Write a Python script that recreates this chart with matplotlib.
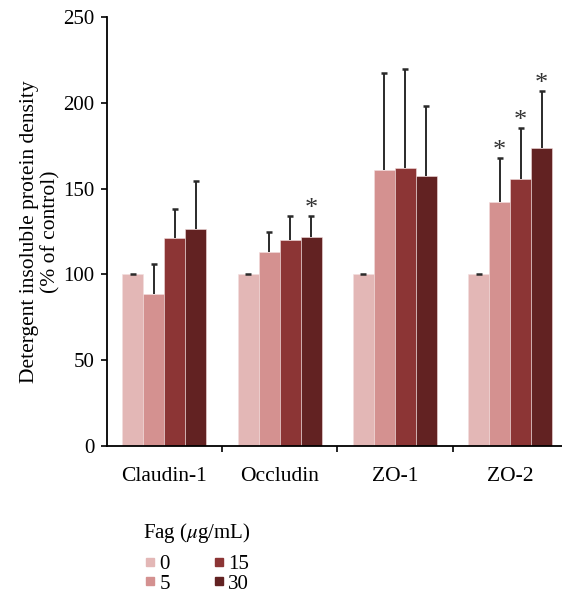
import numpy as np
import matplotlib.pyplot as plt
from matplotlib.lines import Line2D

plt.rcParams['font.family'] = ['Liberation Serif', 'DejaVu Serif']
plt.rcParams['mathtext.fontset'] = 'stix'

# data
proteins = ['Claudin-1', 'Occludin', 'ZO-1', 'ZO-2']
doses = ['0', '5', '15', '30']
colors = ['#e3b7b6', '#d49190', '#8c3535', '#622222']

mean_0 = [100, 100, 100, 100]
mean_5 = [88.4, 112.9, 160.8, 142.0]
mean_15 = [121.0, 120.0, 161.8, 155.4]
mean_30 = [126.3, 121.8, 157.3, 173.5]

err_0 = [0, 0, 0, 0]
err_5 = [17.8, 11.6, 56.6, 26.0]
err_15 = [17.0, 13.9, 58.1, 29.9]
err_30 = [28.1, 12.4, 40.8, 33.4]

# significance marks (True = *)
sig_5 = [False, False, False, True]
sig_15 = [False, False, False, True]
sig_30 = [False, True, False, True]

means = [mean_0, mean_5, mean_15, mean_30]
errs = [err_0, err_5, err_15, err_30]
sigs = [[False] * 4, sig_5, sig_15, sig_30]

fig = plt.figure(figsize=(5.62, 5.98), dpi=100)
ax = fig.add_axes([0.190, 0.254, 0.81, 0.7176])

x = np.arange(len(proteins))
w = 0.182
for i in range(4):
    pos = x + (i - 1.5) * w
    top = np.array(means[i]) + np.array(errs[i])
    ax.bar(pos, means[i], width=w, color=colors[i], edgecolor='#f3dede', linewidth=0.4, zorder=2)
    # upper-only error bar with a single cap
    ax.vlines(pos, means[i], top, color='#2a2a2a', linewidth=1.4, zorder=3)
    ax.plot(pos, top, ls='none', marker='_', markersize=5, markeredgewidth=1.8,
            color='#2a2a2a', zorder=3)
    for j in range(4):
        if sigs[i][j]:
            ax.text(pos[j], top[j] - 2.5, '*', ha='center', va='bottom',
                    fontsize=19, color='#333333')

ax.set_xlim(-0.5, 3.45)
ax.set_ylim(0, 250)
ax.set_yticks([0, 50, 100, 150, 200, 250])
ax.set_xticks([0.5, 1.5, 2.5])
ax.set_xticklabels([])
ax.set_xticks(x, minor=True)
ax.set_xticklabels(proteins, minor=True)
ax.tick_params(axis='x', which='minor', length=0, pad=15, labelsize=15.5)
ax.tick_params(axis='x', which='major', length=4, width=1.2)
ax.tick_params(axis='y', length=4, width=1.2, labelsize=15, pad=5)
for s in ['top', 'right']:
    ax.spines[s].set_visible(False)
for s in ['left', 'bottom']:
    ax.spines[s].set_linewidth(1.3)
ax.set_ylabel('Detergent insoluble protein density\n(% of control)', fontsize=15.5,
              labelpad=2, linespacing=1.1)

# legend: title drawn as text, entries in two columns
fig.text(0.254, (598 - 533) / 598, 'Fag ($\\mu$g/mL)', fontsize=15, ha='left', va='center')
handles = [Line2D([], [], ls='none', marker='s', markersize=6, color=c) for c in colors]
leg = fig.legend(handles, doses, ncol=2, loc='upper left', bbox_to_anchor=(0.254, 0.0728),
                 frameon=False, fontsize=15, borderaxespad=0,
                 handlelength=0.7, handletextpad=0.1, columnspacing=2.0, labelspacing=0.0,
                 borderpad=0)

fig.savefig('out.png', dpi=100)
